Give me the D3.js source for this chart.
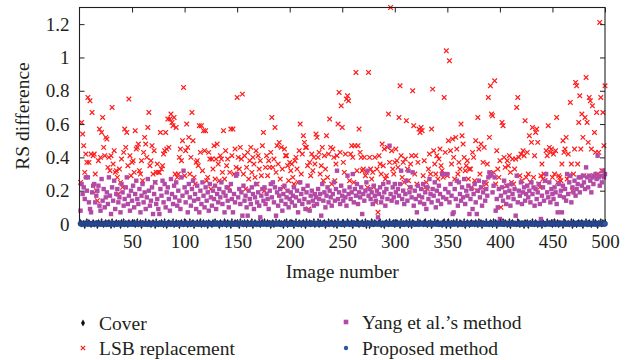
<!DOCTYPE html>
<html>
<head>
<meta charset="utf-8">
<script src="https://cdn.jsdelivr.net/npm/d3@7"></script>
<style>
html,body{margin:0;padding:0;background:#fff;}
svg text{font-family:"Liberation Serif","Times New Roman",serif;fill:#231f20;}
</style>
</head>
<body>
<svg id="chart" width="632" height="360"></svg>
<script>
// ---------- DATA (RS difference per image number, 1..500) ----------
const seriesNames = ["Cover", "LSB replacement", "Yang et al.’s method", "Proposed method"];
const xTickValues = [50,100,150,200,250,300,350,400,450,500];
const yTickValues = [0,0.2,0.4,0.6,0.8,1,1.2];
const yTickLabels = ["0","0.2","0.4","0.6","0.8","1","1.2"];

const coverValues = [
0.02,-0.01,0.005,0.015,-0.02,0.01,0.025,-0.005,0.02,0,-0.015,0.01,0.02,-0.01,0.005,0.015,-0.02,0.02,0.01,-0.005,0.025,0,-0.015,0.01,0.02,
-0.01,0.015,0.02,0,-0.02,0.025,0.01,-0.015,0.005,0.02,-0.005,0.015,0.01,-0.02,0.02,0,0.025,-0.01,0.015,0.005,-0.015,0.02,0.01,-0.005,0.015,
0.005,0.02,-0.015,0.01,0.025,-0.01,0,0.02,-0.02,0.015,0.01,-0.005,0.025,0.005,-0.01,0.02,0.015,-0.015,0,0.02,0.01,-0.02,0.025,0.005,-0.01,
0.015,-0.005,0.02,0.01,-0.015,0.025,0.005,-0.02,0.015,0.02,0,-0.01,0.01,0.025,-0.015,0.005,0.02,-0.005,0.015,-0.02,0.01,0.02,0,-0.01,0.025,
0.02,0.01,-0.015,0.005,0.025,-0.01,0.015,0.02,-0.02,0,0.01,0.02,-0.005,0.015,0.025,-0.015,0.005,0.02,-0.01,0.01,0.015,-0.02,0.02,0.005,0,
-0.015,0.02,0.01,0.025,-0.005,0.015,0,-0.02,0.02,0.01,-0.01,0.005,0.025,0.015,-0.015,0.02,0,0.01,-0.02,0.025,0.005,-0.005,0.02,0.015,-0.01,
0.01,-0.02,0.025,0.005,0.015,-0.01,0.02,0,-0.015,0.02,0.01,-0.005,0.015,0.025,-0.02,0.005,0.02,-0.01,0.01,0,0.025,-0.015,0.015,0.02,-0.005,
0.025,0.005,-0.01,0.02,0,0.015,-0.02,0.01,0.02,-0.015,0.005,0.025,-0.005,0.01,0.02,-0.01,0.015,0,-0.02,0.02,0.005,0.025,-0.015,0.01,0.015,
-0.005,0.02,0.015,-0.02,0.01,0.025,0,-0.01,0.02,0.005,-0.015,0.015,0.02,0.01,-0.02,0.025,-0.005,0.005,0.02,-0.01,0.015,0,0.025,-0.015,0.01,
0.01,0.025,-0.015,0.02,0.005,-0.005,0.015,0.02,-0.02,0.01,0,0.025,-0.01,0.015,0.02,0.005,-0.015,0.02,0.01,-0.02,0.025,0.005,0,-0.01,0.015,
0.02,-0.015,0.01,0,0.025,0.015,-0.01,0.005,0.02,-0.02,0.015,0.01,-0.005,0.025,0.02,-0.015,0,0.01,0.02,-0.01,0.005,0.025,-0.02,0.015,0.01,
-0.02,0.005,0.025,0.015,-0.01,0.02,0.01,-0.005,0,0.02,0.025,-0.015,0.01,0.005,-0.02,0.015,0.02,0,-0.01,0.025,0.01,-0.005,0.015,0.02,-0.015,
0.015,0.02,-0.005,0.01,-0.02,0.025,0.005,0.015,-0.01,0,0.02,0.01,-0.015,0.025,0.005,-0.02,0.02,0.015,-0.005,0.01,0,0.025,-0.01,0.02,0.005,
0.005,-0.01,0.02,0.025,0.01,-0.015,0.015,0,0.02,-0.02,0.01,0.005,0.025,-0.005,0.015,0.02,-0.01,0.01,0,-0.015,0.02,0.025,0.005,-0.02,0.015,
0.025,0.01,-0.02,0.015,0.005,0.02,-0.005,0.01,0.025,-0.015,0,0.02,0.015,-0.01,0.005,0.025,-0.02,0.01,0.02,0,-0.015,0.015,0.02,-0.005,0.01,
-0.01,0.02,0.005,-0.015,0.025,0.01,0.02,-0.02,0.015,0.005,-0.005,0.025,0,0.01,-0.01,0.02,0.015,-0.015,0.025,0.005,0.02,-0.02,0.01,0,0.015,
0.015,0,0.025,-0.01,0.02,0.005,-0.015,0.01,0.025,-0.02,0.015,0.02,-0.005,0.005,0.01,-0.01,0.025,0.02,-0.015,0,0.015,0.01,-0.02,0.02,0.005,
0.02,-0.02,0.01,0.015,-0.005,0.025,0.005,-0.01,0.02,0.01,-0.015,0,0.025,0.015,-0.02,0.02,0.005,-0.01,0.01,0.025,-0.005,0.015,0,0.02,-0.015,
0.01,0.025,-0.01,0.005,0.02,-0.015,0.015,0.01,0,-0.02,0.025,0.02,-0.005,0.01,0.015,-0.01,0.005,0.025,-0.02,0.02,0.01,0,-0.015,0.015,0.02,
-0.005,0.015,0.02,-0.02,0.01,0.005,0.025,-0.01,0.015,0.02,0,-0.015,0.01,0.025,-0.005,0.02,0.005,-0.02,0.015,0.01,0.025,-0.01,0.02,0,0.015
];

const lsbValues = [
0.25,0.61,0.54,0.47,0.31,0.42,0.37,0.76,0.37,0.74,0.42,0.67,0.41,0.42,0.30,0.20,0.14,0.38,0.57,0.40,0.55,0.64,0.46,0.41,0.52,
0.51,0.34,0.40,0.32,0.41,0.70,0.36,0.44,0.31,0.32,0.28,0.18,0.33,0.25,0.39,0.22,0.43,0.57,0.46,0.55,0.35,0.75,0.41,0.29,0.37,
0.38,0.31,0.56,0.45,0.46,0.48,0.32,0.30,0.38,0.26,0.43,0.52,0.48,0.40,0.58,0.67,0.35,0.38,0.47,0.30,0.44,0.25,0.31,0.36,0.31,
0.31,0.55,0.33,0.35,0.42,0.44,0.55,0.45,0.63,0.46,0.63,0.66,0.61,0.59,0.64,0.30,0.58,0.28,0.30,0.40,0.45,0.38,0.50,0.82,0.29,
0.44,0.60,0.46,0.52,0.30,0.40,0.67,0.50,0.28,0.24,0.37,0.38,0.35,0.59,0.43,0.59,0.32,0.56,0.44,0.56,0.26,0.28,0.43,0.39,0.21,
0.39,0.33,0.47,0.27,0.39,0.48,0.36,0.26,0.41,0.39,0.31,0.56,0.27,0.44,0.35,0.39,0.22,0.31,0.57,0.41,0.57,0.30,0.45,0.34,0.76,
0.40,0.33,0.46,0.39,0.78,0.30,0.41,0.21,0.34,0.43,0.27,0.38,0.46,0.31,0.40,0.36,0.28,0.44,0.24,0.41,0.33,0.38,0.29,0.47,0.55,
0.20,0.34,0.41,0.29,0.38,0.34,0.43,0.64,0.34,0.39,0.58,0.31,0.47,0.36,0.49,0.27,0.46,0.33,0.22,0.45,0.41,0.41,0.35,0.26,0.37,
0.32,0.36,0.28,0.24,0.38,0.40,0.33,0.25,0.44,0.60,0.30,0.42,0.53,0.49,0.46,0.46,0.35,0.09,0.37,0.29,0.42,0.32,0.40,0.36,0.54,
0.52,0.40,0.43,0.30,0.35,0.46,0.26,0.41,0.33,0.53,0.28,0.42,0.63,0.46,0.24,0.45,0.40,0.26,0.36,0.41,0.60,0.79,0.43,0.71,0.58,
0.37,0.31,0.42,0.75,0.77,0.74,0.26,0.42,0.47,0.40,0.25,0.47,0.91,0.32,0.47,0.57,0.43,0.40,0.32,0.33,0.40,0.29,0.31,0.22,0.91,
0.40,0.33,0.27,0.31,0.22,0.40,0.13,0.33,0.07,0.41,0.36,0.30,0.48,0.35,0.45,0.27,0.29,0.46,0.66,0.37,1.30,0.44,0.33,0.30,0.37,
0.45,0.38,0.34,0.64,0.83,0.41,0.28,0.37,0.25,0.39,0.62,0.33,0.26,0.22,0.36,0.41,0.80,0.59,0.30,0.41,0.24,0.37,0.57,0.55,0.58,
0.56,0.29,0.38,0.22,0.25,0.21,0.33,0.42,0.30,0.57,0.81,0.44,0.36,0.30,0.41,0.27,0.39,0.45,0.35,0.32,0.28,0.76,0.43,1.04,0.29,
0.50,0.98,0.44,0.36,0.51,0.40,0.27,0.52,0.45,0.30,0.37,0.33,0.60,0.53,0.48,0.40,0.32,0.35,0.38,0.27,0.33,0.33,0.22,0.43,0.40,
0.26,0.50,0.20,0.64,0.45,0.30,0.48,0.22,0.37,0.46,0.25,0.24,0.36,0.76,0.52,0.83,0.66,0.65,0.31,0.86,0.24,0.44,0.33,0.28,0.38,
0.10,0.61,0.59,0.40,0.34,0.23,0.38,0.35,0.41,0.31,0.25,0.39,0.24,0.33,0.39,0.70,0.76,0.40,0.29,0.42,0.26,0.44,0.41,0.62,0.28,
0.43,0.30,0.53,0.25,0.49,0.58,0.28,0.41,0.55,0.57,0.49,0.24,0.22,0.29,0.36,0.27,0.30,0.26,0.44,0.41,0.59,0.46,0.43,0.45,0.28,
0.42,0.30,0.44,0.64,0.25,0.29,0.28,0.26,0.36,0.50,0.43,0.45,0.52,0.27,0.42,0.29,0.73,0.36,0.20,0.30,0.45,0.85,0.83,0.36,0.61,
0.77,0.45,0.66,0.52,0.29,0.64,0.88,0.61,0.49,0.76,0.74,0.45,0.71,0.29,0.55,0.43,0.67,0.30,0.43,1.21,0.76,0.32,0.67,0.47,0.83
];

const yangValues = [
0.08,0.24,0.18,0.22,0.15,0.28,0.20,0.28,0.13,0.09,0.07,0.19,0.23,0.24,0.13,0.17,0.20,0.23,0.11,0.08,0.27,0.14,0.21,0.10,0.16,
0.19,0.12,0.28,0.17,0.06,0.22,0.14,0.26,0.09,0.18,0.21,0.13,0.16,0.07,0.24,0.19,0.11,0.15,0.22,0.28,0.12,0.17,0.08,0.20,0.14,
0.23,0.10,0.18,0.26,0.15,0.12,0.21,0.07,0.17,0.24,0.13,0.19,0.09,0.16,0.27,0.20,0.11,0.14,0.22,0.06,0.18,0.25,0.12,0.15,0.09,
0.06,0.21,0.17,0.26,0.13,0.24,0.10,0.19,0.22,0.15,0.08,0.27,0.18,0.12,0.23,0.16,0.25,0.11,0.20,0.14,0.09,0.28,0.17,0.32,0.22,
0.13,0.19,0.07,0.24,0.16,0.11,0.21,0.26,0.14,0.18,0.09,0.23,0.15,0.07,0.20,0.12,0.25,0.17,0.10,0.22,0.14,0.19,0.08,0.24,0.16,
0.11,0.20,0.15,0.23,0.09,0.18,0.13,0.21,0.16,0.25,0.12,0.19,0.07,0.17,0.22,0.14,0.10,0.20,0.24,0.15,0.07,0.18,0.13,0.29,0.30,
0.16,0.21,0.12,0.19,0.05,0.23,0.14,0.17,0.10,0.05,0.20,0.15,0.12,0.22,0.18,0.09,0.16,0.24,0.13,0.19,0.11,0.04,0.17,0.21,0.14,
0.22,0.12,0.18,0.15,0.09,0.20,0.24,0.16,0.25,0.13,0.22,0.05,0.19,0.11,0.17,0.21,0.14,0.08,0.18,0.23,0.12,0.16,0.20,0.10,0.15,
0.19,0.13,0.17,0.22,0.11,0.16,0.20,0.07,0.14,0.25,0.18,0.12,0.21,0.15,0.09,0.19,0.23,0.13,0.08,0.17,0.20,0.14,0.11,0.18,0.16,
0.12,0.21,0.15,0.18,0.05,0.24,0.14,0.19,0.10,0.17,0.22,0.13,0.20,0.16,0.11,0.18,0.25,0.14,0.21,0.32,0.15,0.19,0.12,0.23,0.17,
0.14,0.20,0.16,0.11,0.29,0.18,0.22,0.15,0.19,0.30,0.13,0.21,0.17,0.24,0.12,0.19,0.16,0.22,0.06,0.18,0.14,0.20,0.25,0.32,0.17,
0.21,0.15,0.19,0.12,0.23,0.17,0.14,0.20,0.04,0.18,0.22,0.13,0.16,0.24,0.19,0.11,0.21,0.15,0.25,0.47,0.18,0.14,0.22,0.16,0.24,
0.19,0.13,0.21,0.17,0.24,0.32,0.15,0.20,0.12,0.18,0.26,0.14,0.32,0.19,0.22,0.16,0.31,0.11,0.20,0.15,0.07,0.23,0.17,0.13,0.21,
0.16,0.24,0.12,0.19,0.09,0.22,0.15,0.27,0.18,0.13,0.21,0.17,0.25,0.10,0.20,0.14,0.23,0.18,0.12,0.30,0.16,0.30,0.21,0.15,0.30,
0.19,0.13,0.24,0.17,0.06,0.07,0.21,0.15,0.26,0.11,0.25,0.18,0.14,0.22,0.16,0.27,0.12,0.20,0.17,0.23,0.06,0.15,0.21,0.09,0.18,
0.24,0.13,0.06,0.20,0.26,0.16,0.22,0.11,0.19,0.25,0.14,0.21,0.17,0.28,0.31,0.29,0.30,0.19,0.23,0.28,0.08,0.15,0.10,0.21,0.03,
0.17,0.22,0.14,0.26,0.19,0.12,0.23,0.16,0.20,0.11,0.24,0.18,0.15,0.21,0.05,0.29,0.13,0.20,0.17,0.25,0.12,0.19,0.22,0.14,0.18,
0.23,0.16,0.20,0.13,0.25,0.18,0.22,0.11,0.21,0.15,0.19,0.24,0.12,0.03,0.17,0.22,0.14,0.26,0.30,0.19,0.16,0.25,0.13,0.21,0.18,
0.15,0.22,0.19,0.12,0.07,0.24,0.17,0.20,0.07,0.23,0.16,0.21,0.14,0.30,0.18,0.25,0.29,0.13,0.22,0.19,0.26,0.17,0.21,0.24,0.28,
0.19,0.28,0.23,0.29,0.25,0.21,0.34,0.28,0.22,0.29,0.26,0.19,0.28,0.24,0.29,0.30,0.27,0.41,0.28,0.23,0.29,0.25,0.32,0.28,0.30
];

const proposedValues = [
0.002,0.001,0.003,0,0.002,0.004,0.001,0.002,0.003,0.001,0,0.002,0.003,0.001,0.002,0.004,0.002,0.001,0.003,0.002,0,0.001,0.003,0.002,0.001,
0.003,0.002,0,0.001,0.004,0.002,0.001,0.003,0.002,0,0.002,0.001,0.004,0.003,0.001,0.002,0,0.003,0.001,0.002,0.004,0.001,0.002,0.003,0,
0.001,0.003,0.002,0.004,0,0.001,0.002,0.003,0.001,0.002,0.004,0,0.002,0.001,0.003,0.002,0.001,0,0.004,0.002,0.003,0.001,0.002,0,0.003,
0.002,0,0.004,0.001,0.003,0.002,0.001,0.002,0,0.003,0.001,0.004,0.002,0.003,0.001,0,0.002,0.001,0.003,0.004,0.002,0.001,0.003,0,0.002,
0.004,0.001,0.002,0.003,0,0.002,0.001,0.004,0.002,0.003,0.001,0.002,0,0.001,0.003,0.002,0.004,0.001,0,0.002,0.003,0.001,0.002,0.004,0.001,
0,0.003,0.001,0.002,0.004,0.001,0.003,0,0.002,0.001,0.003,0.004,0.002,0,0.001,0.003,0.002,0.001,0.004,0.002,0,0.003,0.001,0.002,0.003,
0.002,0.001,0.004,0.003,0.001,0,0.002,0.003,0.001,0.004,0.002,0,0.001,0.003,0.002,0.001,0.004,0.002,0.003,0,0.001,0.002,0.004,0.001,0.003,
0.001,0.004,0.002,0,0.003,0.002,0.001,0.004,0,0.002,0.003,0.001,0.002,0.004,0.001,0.003,0,0.002,0.001,0.003,0.002,0.004,0,0.001,0.002,
0.003,0,0.001,0.004,0.002,0.003,0.001,0,0.002,0.004,0.001,0.003,0.002,0.001,0,0.004,0.003,0.001,0.002,0,0.003,0.001,0.004,0.002,0.001,
0.002,0.003,0.004,0.001,0,0.002,0.004,0.001,0.003,0.002,0,0.001,0.003,0.004,0.002,0.001,0.002,0,0.003,0.001,0.004,0.002,0.001,0.003,0,
0.001,0.002,0,0.003,0.004,0.001,0.002,0.003,0,0.001,0.004,0.002,0.003,0.001,0.002,0,0.004,0.001,0.003,0.002,0.001,0,0.002,0.004,0.003,
0.004,0.002,0.001,0,0.003,0.001,0.004,0.002,0.001,0.003,0.002,0,0.004,0.001,0.002,0.003,0.001,0.004,0,0.002,0.003,0.001,0.002,0,0.004,
0,0.001,0.003,0.002,0.004,0.001,0,0.003,0.002,0.001,0.004,0.003,0,0.002,0.001,0.004,0.002,0.003,0.001,0,0.002,0.004,0.001,0.003,0.002,
0.003,0.004,0.001,0.002,0,0.003,0.001,0.002,0.004,0,0.001,0.003,0.002,0.004,0.001,0.002,0,0.003,0.001,0.004,0.002,0.001,0.003,0.002,0,
0.002,0.001,0.004,0,0.003,0.002,0.001,0.004,0.003,0.001,0,0.002,0.004,0.001,0.003,0.002,0,0.001,0.004,0.003,0.002,0.001,0,0.003,0.004,
0.001,0.003,0,0.004,0.002,0.001,0.003,0,0.004,0.002,0.001,0.003,0.002,0,0.001,0.004,0.002,0.003,0.001,0.002,0.004,0,0.003,0.001,0.002,
0.004,0,0.002,0.001,0.003,0.004,0.002,0.001,0,0.003,0.002,0.004,0.001,0.003,0,0.002,0.001,0.004,0.002,0.003,0,0.001,0.004,0.002,0.001,
0.002,0.003,0.001,0.004,0.001,0,0.003,0.002,0.004,0.001,0.003,0,0.002,0.001,0.004,0.003,0.002,0,0.001,0.003,0.004,0.002,0.001,0,0.003,
0.001,0.002,0.004,0.003,0,0.002,0.001,0.003,0.004,0.002,0.001,0.004,0,0.003,0.002,0.001,0.003,0.004,0.002,0,0.001,0.003,0.002,0.004,0.001,
0.003,0.001,0.002,0,0.004,0.003,0.002,0.001,0.004,0,0.002,0.003,0.001,0.004,0.002,0.001,0,0.003,0.002,0.004,0.001,0.002,0.003,0,0.002
];

// ---------- LAYOUT ----------
const plot = {left: 79.5, right: 605, top: 7.5, bottom: 224};
const colors = {cover: "#222222", lsb: "#ff1a1a", yang: "#b24aa6", proposed: "#2f55a6", proposedEdge: "#1c3272", frame: "#231f20"};
const fontSize = 19;

const svg = d3.select("#chart");
const x = d3.scaleLinear().domain([0, 500]).range([plot.left, plot.right]);
const y = d3.scaleLinear().domain([0, 1.3]).range([plot.bottom, plot.top]);

const crossPath = (cx, cy, s) => `M${cx-s},${cy-s}L${cx+s},${cy+s}M${cx-s},${cy+s}L${cx+s},${cy-s}`;
const diamond = d3.symbol().type(d3.symbolDiamond).size(4);

const g = svg.append("g");

// Cover
g.append("g").selectAll("path").data(coverValues).join("path")
  .attr("transform", (d, i) => `translate(${x(i + 1)},${y(d)})`)
  .attr("d", diamond).attr("fill", colors.cover);

// LSB replacement
g.append("g").selectAll("path").data(lsbValues).join("path")
  .attr("d", (d, i) => crossPath(x(i + 1), y(d), 2.3))
  .attr("stroke", colors.lsb).attr("stroke-width", 1.2).attr("fill", "none");

// Yang et al.'s method
g.append("g").selectAll("rect").data(yangValues).join("rect")
  .attr("x", (d, i) => x(i + 1) - 2.2).attr("y", d => y(d) - 2.2)
  .attr("width", 4.4).attr("height", 4.4).attr("fill", colors.yang);

// ---------- AXES (inward ticks, boxed) ----------
function styleAxis(sel) {
  sel.select(".domain").remove();
  sel.selectAll(".tick line").attr("stroke", colors.frame).attr("stroke-width", 1);
  sel.selectAll(".tick text").attr("font-family", '"Liberation Serif", serif').attr("font-size", fontSize).attr("fill", "#231f20");
}
svg.append("g").attr("transform", `translate(${plot.left},0)`)
  .call(d3.axisLeft(y).tickValues(yTickValues).tickFormat((d, i) => yTickLabels[i]).tickSize(-5).tickPadding(10))
  .call(styleAxis);
svg.append("g").attr("transform", `translate(${plot.right},0)`)
  .call(d3.axisRight(y).tickValues(yTickValues).tickFormat("").tickSize(-5))
  .call(styleAxis);
svg.append("g").attr("transform", `translate(0,${plot.bottom})`)
  .call(d3.axisBottom(x).tickValues(xTickValues).tickFormat(d3.format("d")).tickSize(-5).tickPadding(11))
  .call(styleAxis);
svg.append("g").attr("transform", `translate(0,${plot.top})`)
  .call(d3.axisTop(x).tickValues(xTickValues).tickFormat("").tickSize(-5))
  .call(styleAxis);

svg.append("rect").attr("x", plot.left).attr("y", plot.top)
  .attr("width", plot.right - plot.left).attr("height", plot.bottom - plot.top)
  .attr("fill", "none").attr("stroke", colors.frame).attr("stroke-width", 1.1);

// Proposed method (drawn last, over the bottom frame line)
svg.append("g").selectAll("circle").data(proposedValues).join("circle")
  .attr("cx", (d, i) => x(i + 1)).attr("cy", d => y(d)).attr("r", 2.6)
  .attr("fill", colors.proposed).attr("stroke", colors.proposedEdge).attr("stroke-width", 0.5);

// axis titles
svg.append("text").attr("x", (plot.left + plot.right) / 2).attr("y", 278)
  .attr("text-anchor", "middle").attr("font-size", 19.5).text("Image number");
svg.append("text").attr("transform", "translate(29,116) rotate(-90)")
  .attr("text-anchor", "middle").attr("font-size", 19.5).text("RS difference");

// ---------- LEGEND ----------
const legendItems = [
  {name: seriesNames[0], mx: 83, my: 323, kind: "cover"},
  {name: seriesNames[1], mx: 83, my: 348, kind: "lsb"},
  {name: seriesNames[2], mx: 346, my: 322, kind: "yang"},
  {name: seriesNames[3], mx: 346, my: 348, kind: "proposed"}
];
const lg = svg.append("g");
legendItems.forEach(it => {
  if (it.kind === "cover") lg.append("path").attr("transform", `translate(${it.mx},${it.my})`).attr("d", d3.symbol().type(d3.symbolDiamond).size(14)).attr("fill", "#111");
  if (it.kind === "lsb") lg.append("path").attr("d", crossPath(it.mx, it.my, 2.2)).attr("stroke", colors.lsb).attr("stroke-width", 1.2);
  if (it.kind === "yang") lg.append("rect").attr("x", it.mx - 2.3).attr("y", it.my - 2.3).attr("width", 4.6).attr("height", 4.6).attr("fill", colors.yang);
  if (it.kind === "proposed") lg.append("circle").attr("cx", it.mx).attr("cy", it.my).attr("r", 2.2).attr("fill", colors.proposed);
  lg.append("text").attr("x", it.mx + 16).attr("y", it.my + 7).attr("font-size", 19.5).text(it.name);
});
</script>
</body>
</html>
